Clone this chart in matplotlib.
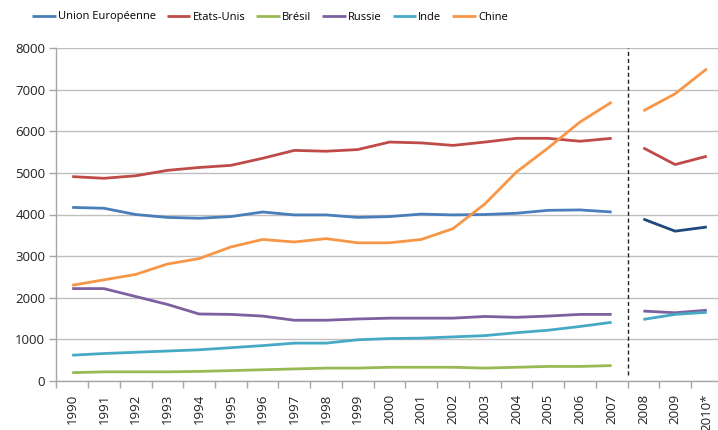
import matplotlib
matplotlib.use("Agg")
import matplotlib.pyplot as plt
import numpy as np

plt.rcParams['font.family'] = ['Open Sans', 'DejaVu Sans']

years = ["1990", "1991", "1992", "1993", "1994", "1995", "1996", "1997", "1998",
         "1999", "2000", "2001", "2002", "2003", "2004", "2005", "2006", "2007",
         "2008", "2009", "2010*"]

ue = [4170, 4150, 4000, 3930, 3910, 3950, 4060, 3990, 3990, 3930, 3950, 4010,
      3990, 4000, 4030, 4100, 4110, 4060]
ue_after = [3890, 3600, 3700]
us = [4910, 4870, 4930, 5060, 5130, 5180, 5350, 5540, 5520, 5560, 5740, 5720,
      5660, 5740, 5830, 5830, 5760, 5830]
us_after = [5600, 5200, 5400]
bresil = [200, 220, 220, 220, 230, 250, 270, 290, 310, 310, 330, 330, 330, 310,
          330, 350, 350, 370]
russie = [2220, 2220, 2030, 1840, 1610, 1600, 1560, 1460, 1460, 1490, 1510,
          1510, 1510, 1550, 1530, 1560, 1600, 1600]
russie_after = [1680, 1640, 1700]
inde = [620, 660, 690, 720, 750, 800, 850, 910, 910, 990, 1020, 1030, 1060,
        1090, 1160, 1220, 1310, 1410]
inde_after = [1480, 1600, 1650]
chine = [2300, 2430, 2560, 2810, 2940, 3220, 3400, 3340, 3420, 3320, 3320,
         3400, 3660, 4250, 5020, 5600, 6220, 6700]
chine_after = [6490, 6900, 7500]

yticks = [0, 1000, 2000, 3000, 4000, 5000, 6000, 7000, 8000]

c_ue = '#4A7EBB'
c_ue2 = '#1F497D'
c_us = '#BE4B48'
c_br = '#98B954'
c_ru = '#7D60A0'
c_in = '#46AAC5'
c_ch = '#F79646'

W, H = 718, 430
fig = plt.figure(figsize=(W / 100, H / 100), dpi=100)
ax = fig.add_axes([56.3 / W, 1 - 381 / H, (722.7 - 56.3) / W, (381 - 48) / H])

x1 = np.arange(18)
x2 = np.arange(18, 21)
lw = 2.0

series = [
    ("Union Européenne", ue, ue_after, c_ue, c_ue2),
    ("Etats-Unis", us, us_after, c_us, c_us),
    ("Brésil", bresil, None, c_br, c_br),
    ("Russie", russie, russie_after, c_ru, c_ru),
    ("Inde", inde, inde_after, c_in, c_in),
    ("Chine", chine, chine_after, c_ch, c_ch),
]
handles = []
for name, a, b, col, col2 in series:
    h, = ax.plot(x1, a, color=col, lw=lw, label=name, solid_capstyle='butt', zorder=3)
    handles.append(h)
    if b is not None:
        ax.plot(x2, b, color=col2, lw=lw, solid_capstyle='butt', zorder=3)

ax.plot([17.5, 17.5], [150, 8000], color='#222222', lw=1.0, ls=(0, (3, 2)), zorder=2)

ax.set_xlim(-0.5, 20.5)
ax.set_ylim(0, 8000)
ax.set_yticks(yticks)
ax.set_yticklabels([str(v) for v in yticks], fontsize=9.5, color='#222222')
ax.yaxis.grid(True, color='#BFBFBF', lw=1.0)
ax.set_axisbelow(True)

ax.set_xticks(np.arange(21))
ax.set_xticklabels(years, rotation=90, fontsize=9.5, color='#222222')
ax.set_xticks(np.arange(-0.5, 21, 1), minor=True)
ax.tick_params(axis='x', which='major', length=0, pad=9)
ax.tick_params(axis='x', which='minor', length=5, color='#A6A6A6', width=1)
ax.tick_params(axis='y', length=5, color='#A6A6A6', width=1, pad=3)

for s in ['top', 'right']:
    ax.spines[s].set_visible(False)
for s in ['left', 'bottom']:
    ax.spines[s].set_color('#A6A6A6')
    ax.spines[s].set_linewidth(1)

fig.legend(handles=handles, loc='center', bbox_to_anchor=(270 / W, 1 - 17 / H),
           ncol=6, frameon=False, fontsize=8, handlelength=2.1,
           handletextpad=0.2, columnspacing=1.0)

fig.savefig("out.png", dpi=100)
